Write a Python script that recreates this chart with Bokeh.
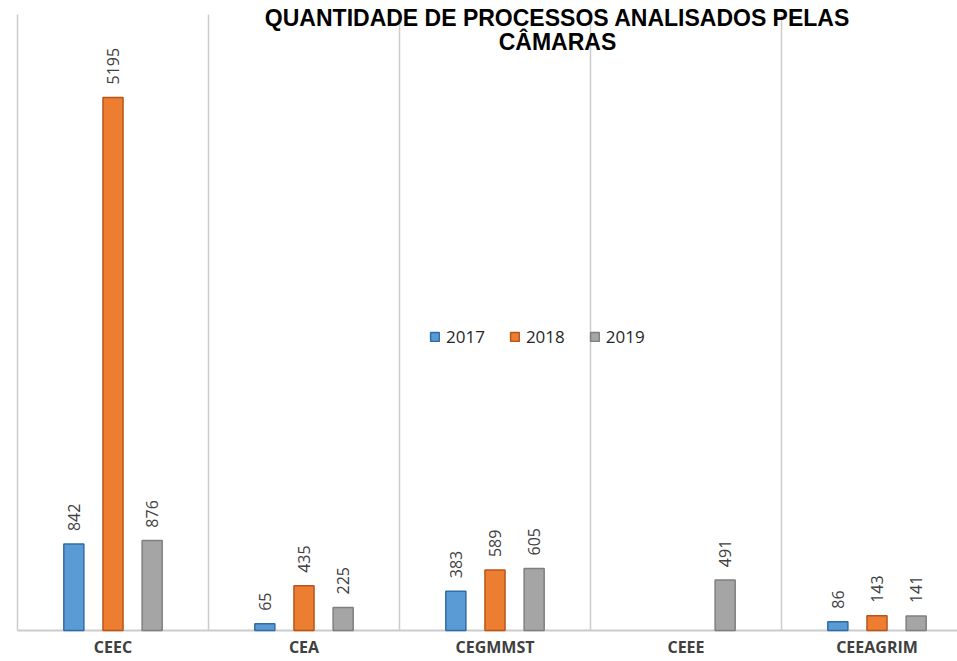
import math
from bokeh.plotting import figure
from bokeh.models import (Range1d, ColumnDataSource, LabelSet, Label,
                          Legend, LegendItem)
from bokeh.core.properties import value
from bokeh.embed import file_html
from bokeh.resources import INLINE

title_lines = ["QUANTIDADE DE PROCESSOS ANALISADOS PELAS", "CÂMARAS"]
categories = ["CEEC", "CEA", "CEGMMST", "CEEE", "CEEAGRIM"]
years = ["2017", "2018", "2019"]
values_2017 = [842, 65, 383, None, 86]
values_2018 = [5195, 435, 589, None, 143]
values_2019 = [876, 225, 605, 491, 141]
series = [values_2017, values_2018, values_2019]

fills = ["#5B9BD5", "#ED7D31", "#A5A5A5"]
edges = ["#2F6DA8", "#B8561A", "#7F7F7F"]

# layout (page pixels)
W, H = 957, 661
plot_left_px = 17
baseline_px = 630
plot_top_px = 14
cat_px = 191.0
units_per_px = 5195 / 533.0


def X(px):
    return (px - plot_left_px) / cat_px


def Y(py):
    return (baseline_px - py) * units_per_px


p = figure(width=W, height=H, x_range=Range1d(X(0), X(W)), y_range=Range1d(Y(H), Y(0)),
           output_backend="svg", toolbar_location=None,
           x_axis_location=None, y_axis_location=None,
           min_border_left=0, min_border_right=0, min_border_top=0, min_border_bottom=0)
p.outline_line_color = None
p.background_fill_color = "white"
p.border_fill_color = "white"
p.xgrid.visible = False
p.ygrid.visible = False

# category separators
n = len(categories)
p.segment(x0=list(range(n + 1)), y0=[0] * (n + 1), x1=list(range(n + 1)),
          y1=[Y(plot_top_px)] * (n + 1), line_color="#CCCCCC", line_width=1.5)

# baseline
p.segment(x0=[0], y0=[0], x1=[X(W)], y1=[0], line_color="#CCCCCC", line_width=2)

offsets = [-0.205, 0.0, 0.205]
renderers = []
for i, vals in enumerate(series):
    xs = [k + 0.5 + offsets[i] for k, v in enumerate(vals) if v is not None]
    ys = [v for v in vals if v is not None]
    src = ColumnDataSource(dict(x=xs, top=ys, label=[str(v) for v in ys]))
    r = p.vbar(x="x", top="top", bottom=0, width=0.105, source=src,
               fill_color=fills[i], line_color=edges[i], line_width=1.5)
    renderers.append(r)
    p.add_layout(LabelSet(x="x", y="top", text="label", source=src,
                          angle=math.pi / 2, text_align="left", text_baseline="middle",
                          y_offset=13, text_font=value("Open Sans"), text_font_size="16px",
                          text_color="#404040"))

cat_src = ColumnDataSource(dict(x=[k + 0.5 for k in range(n)],
                                y=[Y(646)] * n, text=categories))
p.add_layout(LabelSet(x="x", y="y", text="text", source=cat_src,
                      text_align="center", text_baseline="middle",
                      text_font=value("Open Sans"), text_font_style="bold",
                      text_font_size="16px", text_color="#404040"))

title_x = X(557)
for line, py in zip(title_lines, [17, 41]):
    p.add_layout(Label(x=title_x, y=Y(py), text=line,
                       text_align="center", text_baseline="alphabetic",
                       text_font="Liberation Sans", text_font_style="bold",
                       text_font_size="23px", text_color="#000000"))

legend = Legend(items=[LegendItem(label=y, renderers=[r]) for y, r in zip(years, renderers)],
                orientation="horizontal", location=(429, H - 348))
legend.glyph_width = 11
legend.glyph_height = 11
legend.label_standoff = 6
legend.spacing = 24
legend.padding = 0
legend.margin = 0
legend.border_line_alpha = 0
legend.background_fill_alpha = 0
legend.label_text_font = "Open Sans"
legend.label_text_font_size = "17px"
legend.label_text_color = "#262626"
p.add_layout(legend)

open("out.html", "w").write(file_html(p, INLINE))
